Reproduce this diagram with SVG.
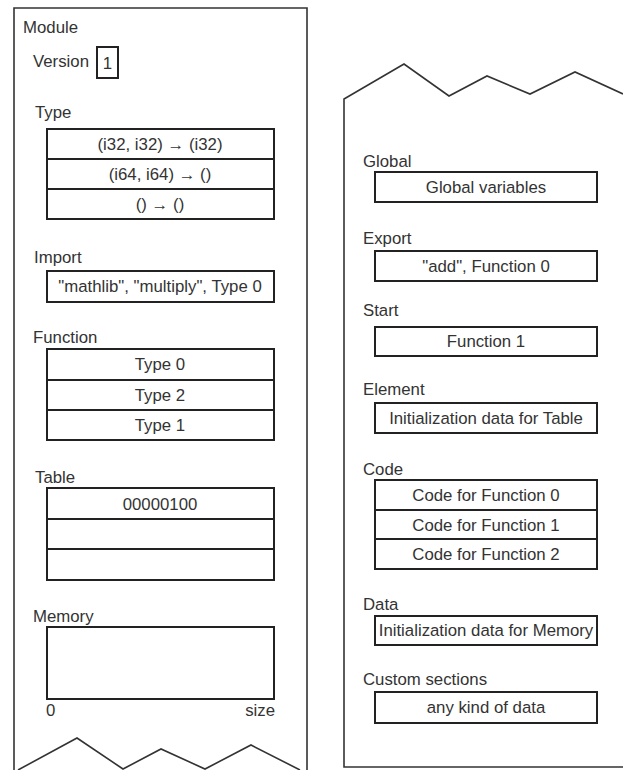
<svg xmlns="http://www.w3.org/2000/svg" width="623" height="770" viewBox="0 0 623 770">
  <style>
    .frame { fill: none; stroke: #333; stroke-width: 1.6; stroke-linejoin: miter; }
    .box { fill: #fff; stroke: #222; stroke-width: 2; }
    .sep { stroke: #222; stroke-width: 2; }
    text { font-family: "Liberation Sans", Arial, sans-serif; font-size: 16.8px; fill: #333; }
    .c { text-anchor: middle; }
    .r { text-anchor: end; }
  </style>
  <rect width="623" height="770" fill="#fff"/>

  <!-- torn-page outlines of the two halves of the module -->
  <g id="frames">
    <path class="frame" d="M14,770 L14,8 L307,8 L307,770"/>
    <polyline class="frame" points="18,770 77,738 123,769 161,749 205,769 251,745 300,770"/>
    <path class="frame" d="M623,94 L575,72 L530,94 L487,76 L449,96 L404,64 L344,99 L344,767 L625,767"/>
  </g>

  <!-- left half -->
  <g id="module">
    <text x="23" y="33">Module</text>
  </g>
  <g id="version">
    <text x="33" y="67">Version</text>
    <rect class="box" x="97" y="47" width="21" height="31"/>
    <text class="c" x="107.5" y="69">1</text>
  </g>
  <g id="type">
    <text x="35" y="118">Type</text>
    <rect class="box" x="47" y="129" width="227" height="90"/>
    <line class="sep" x1="47" y1="159" x2="274" y2="159"/>
    <line class="sep" x1="47" y1="189" x2="274" y2="189"/>
    <text class="c" x="160" y="150">(i32, i32) → (i32)</text>
    <text class="c" x="160" y="180">(i64, i64) → ()</text>
    <text class="c" x="160" y="210">() → ()</text>
  </g>
  <g id="import">
    <text x="34" y="263">Import</text>
    <rect class="box" x="47" y="271" width="227" height="31"/>
    <text class="c" x="160" y="292">"mathlib", "multiply", Type 0</text>
  </g>
  <g id="function">
    <text x="33" y="343">Function</text>
    <rect class="box" x="47" y="349" width="227" height="91"/>
    <line class="sep" x1="47" y1="380" x2="274" y2="380"/>
    <line class="sep" x1="47" y1="410" x2="274" y2="410"/>
    <text class="c" x="160" y="370">Type 0</text>
    <text class="c" x="160" y="401">Type 2</text>
    <text class="c" x="160" y="431">Type 1</text>
  </g>
  <g id="table">
    <text x="35" y="483">Table</text>
    <rect class="box" x="47" y="488" width="227" height="92"/>
    <line class="sep" x1="47" y1="519" x2="274" y2="519"/>
    <line class="sep" x1="47" y1="549" x2="274" y2="549"/>
    <text class="c" x="160" y="510">00000100</text>
  </g>
  <g id="memory">
    <text x="33" y="622">Memory</text>
    <rect class="box" x="47" y="627" width="227" height="72"/>
    <text x="46" y="716">0</text>
    <text class="r" x="275" y="716">size</text>
  </g>

  <!-- right half -->
  <g id="global">
    <text x="363" y="167">Global</text>
    <rect class="box" x="375" y="172" width="222" height="30"/>
    <text class="c" x="486" y="193">Global variables</text>
  </g>
  <g id="export">
    <text x="363" y="244">Export</text>
    <rect class="box" x="375" y="251" width="222" height="30"/>
    <text class="c" x="486" y="272">"add", Function 0</text>
  </g>
  <g id="start">
    <text x="363" y="316">Start</text>
    <rect class="box" x="375" y="327" width="222" height="29"/>
    <text class="c" x="486" y="347">Function 1</text>
  </g>
  <g id="element">
    <text x="363" y="395">Element</text>
    <rect class="box" x="375" y="403" width="222" height="30"/>
    <text class="c" x="486" y="424">Initialization data for Table</text>
  </g>
  <g id="code">
    <text x="363" y="475">Code</text>
    <rect class="box" x="375" y="480" width="222" height="89"/>
    <line class="sep" x1="375" y1="510" x2="597" y2="510"/>
    <line class="sep" x1="375" y1="539" x2="597" y2="539"/>
    <text class="c" x="486" y="501">Code for Function 0</text>
    <text class="c" x="486" y="531">Code for Function 1</text>
    <text class="c" x="486" y="560">Code for Function 2</text>
  </g>
  <g id="data">
    <text x="363" y="610">Data</text>
    <rect class="box" x="375" y="616" width="222" height="29"/>
    <text class="c" x="486" y="636">Initialization data for Memory</text>
  </g>
  <g id="custom">
    <text x="363" y="685">Custom sections</text>
    <rect class="box" x="375" y="692" width="222" height="31"/>
    <text class="c" x="486" y="713">any kind of data</text>
  </g>

  <g id="connectors"/>
</svg>
